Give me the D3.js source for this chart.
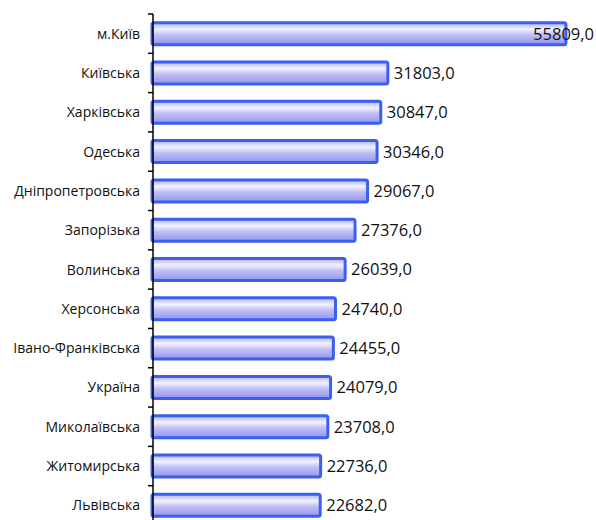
<!DOCTYPE html>
<html>
<head>
<meta charset="utf-8">
<script src="https://cdn.jsdelivr.net/npm/d3@7"></script>
<style>
  html, body { margin: 0; padding: 0; background: #fff; }
  svg { display: block; }
</style>
</head>
<body>
<svg id="chart" width="596" height="520"></svg>
<script>
// Regions ordered from top to bottom
const regions = [
  "м.Київ", "Київська", "Харківська", "Одеська", "Дніпропетровська",
  "Запорізька", "Волинська", "Херсонська", "Івано-Франківська",
  "Україна", "Миколаївська", "Житомирська", "Львівська"
];
const values = [
  55809.0, 31803.0, 30847.0, 30346.0, 29067.0,
  27376.0, 26039.0, 24740.0, 24455.0,
  24079.0, 23708.0, 22736.0, 22682.0
];
const xMax = 60000;

const W = 596, H = 520;
const plotLeft = 152, plotRight = 597, plotTop = 14, plotBottom = 525;
const axisX = 153;

const svg = d3.select("#chart");
const fontFamily = "'Open Sans', 'Noto Sans', sans-serif";

const defs = svg.append("defs");
const grad = defs.append("linearGradient")
  .attr("id", "barFill").attr("x1", 0).attr("y1", 0).attr("x2", 0).attr("y2", 1);
[
  [0, "#b0b0f6"], [0.3, "#f2f2ff"], [0.55, "#c0c0f6"], [1, "#9494ee"]
].forEach(([o, c]) => grad.append("stop").attr("offset", o).attr("stop-color", c));

const x = d3.scaleLinear().domain([0, xMax]).range([plotLeft, plotRight]);
const y = d3.scaleBand().domain(regions).range([plotTop, plotBottom]).paddingInner(0.44).paddingOuter(0.22);
const yEdges = d3.scaleBand().domain(regions).range([plotTop, plotBottom]);

const data = regions.map((r, i) => ({ region: r, value: values[i] }));

// Bars
svg.append("g").selectAll("rect")
  .data(data).join("rect")
  .attr("x", x(0))
  .attr("y", d => y(d.region))
  .attr("width", d => x(d.value) - x(0))
  .attr("height", y.bandwidth())
  .attr("rx", 2).attr("ry", 2)
  .attr("fill", "url(#barFill)")
  .attr("stroke", "#3a5ff2")
  .attr("stroke-width", 3);

// Vertical category axis with tick marks at band boundaries
const axisG = svg.append("g");
axisG.append("line")
  .attr("x1", axisX).attr("x2", axisX)
  .attr("y1", plotTop).attr("y2", plotBottom)
  .attr("stroke", "#000").attr("stroke-width", 1.5);
axisG.selectAll("line.tick")
  .data(regions).join("line")
  .attr("class", "tick")
  .attr("x1", axisX - 5).attr("x2", axisX)
  .attr("y1", d => yEdges(d)).attr("y2", d => yEdges(d))
  .attr("stroke", "#000").attr("stroke-width", 1.5);

// Category labels
svg.append("g").selectAll("text")
  .data(data).join("text")
  .attr("x", 140)
  .attr("y", d => y(d.region) + y.bandwidth() / 2)
  .attr("dy", "0.36em")
  .attr("text-anchor", "end")
  .attr("font-family", fontFamily)
  .attr("font-size", 14)
  .attr("fill", "#111")
  .text(d => d.region);

// Value labels
const fmt = v => v.toFixed(1).replace(".", ",");
svg.append("g").selectAll("text")
  .data(data).join("text")
  .attr("y", d => y(d.region) + y.bandwidth() / 2)
  .attr("dy", "0.36em")
  .attr("font-family", fontFamily)
  .attr("font-size", 16.5)
  .attr("fill", "#111")
  .text(d => fmt(d.value))
  .each(function (d) {
    const w = this.getComputedTextLength();
    let px = x(d.value) + 6;
    if (px + w > W - 2) px = W - 2 - w;
    d3.select(this).attr("x", px);
  });
</script>
</body>
</html>
